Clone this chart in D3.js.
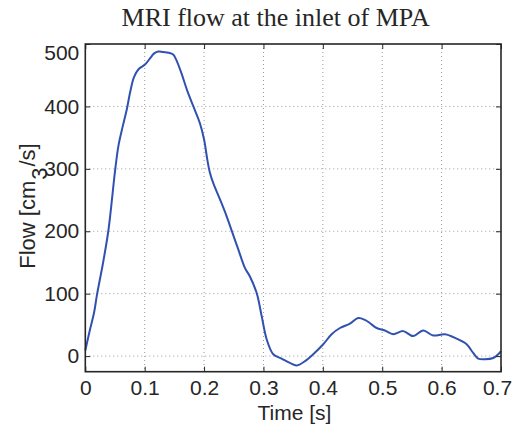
<!DOCTYPE html>
<html><head><meta charset="utf-8">
<script src="https://cdn.jsdelivr.net/npm/d3@7"></script>
<style>body{margin:0;background:#fff}svg{display:block}</style>
</head><body>
<svg id="c" width="514" height="425"></svg>
<script>
const time = [0.000,0.008,0.0146,0.020,0.030,0.039,0.0505,0.056,0.063,0.070,0.076,0.082,0.090,0.1005,0.109,0.116,0.123,0.131,0.140,0.148,0.153,0.162,0.171,0.182,0.193,0.200,0.2054,0.2095,0.2155,0.2268,0.238,0.2465,0.2576,0.2689,0.277,0.2886,0.297,0.3054,0.3165,0.3306,0.3446,0.3559,0.370,0.3838,0.4007,0.4148,0.4288,0.4456,0.4596,0.4709,0.479,0.4906,0.5045,0.5185,0.5354,0.552,0.569,0.5859,0.6056,0.6253,0.6421,0.6532,0.6616,0.673,0.6869,0.6953,0.700];
const flow = [9,43,69,100,150,202,300,338,368,396,425,447,460,467,477,485,488,487,486,483,475,453,427,400,373,347,315,295,277,251,224,201,171,141,128,101,64,27,3,-4,-11,-15,-8,3,19,35,45,52,61,58,53,45,41,35,40,32,41,33,35,28,19,5,-4,-5,-3,3,8];
const xTicks = [0,0.1,0.2,0.3,0.4,0.5,0.6,0.7];
const yTicks = [0,100,200,300,400,500];
const titleText = "MRI flow at the inlet of MPA";
const xLabel = "Time [s]";

const L=85.3,R=501,T=44,B=371.7;
const svg=d3.select("#c");
const x=d3.scaleLinear().domain([0,0.7]).range([L,R]);
const y=d3.scaleLinear().domain([-25,500]).range([B,T]);
const axisCol="#262626";
const font="'Liberation Sans', Arial, Helvetica, sans-serif";

// grid
const g=svg.append("g");
g.selectAll(".vg").data(xTicks.slice(1,-1)).join("line")
 .attr("x1",d=>x(d)).attr("x2",d=>x(d)).attr("y1",T).attr("y2",B)
 .attr("stroke","#9a9a9a").attr("stroke-width",1).attr("stroke-dasharray","1,3");
g.selectAll(".hg").data(yTicks.filter(d=>d<500)).join("line")
 .attr("x1",L).attr("x2",R).attr("y1",d=>y(d)).attr("y2",d=>y(d))
 .attr("stroke","#9a9a9a").attr("stroke-width",1).attr("stroke-dasharray","1,3");

// line
const data=time.map((t,i)=>[t,flow[i]]);
svg.append("path").datum(data)
 .attr("d",d3.line().x(d=>x(d[0])).y(d=>y(d[1])).curve(d3.curveCatmullRom.alpha(0.5)))
 .attr("fill","none").attr("stroke","#3151b0").attr("stroke-width",2);

// axes
const ax=svg.append("g").attr("transform",`translate(0,${B})`)
 .call(d3.axisBottom(x).tickValues(xTicks).tickFormat(d3.format("")).tickSizeInner(-5).tickSizeOuter(0).tickPadding(8));
const ay=svg.append("g").attr("transform",`translate(${L},0)`)
 .call(d3.axisLeft(y).tickValues(yTicks).tickSizeInner(-5).tickSizeOuter(0).tickPadding(6));
const axT=svg.append("g").attr("transform",`translate(0,${T})`)
 .call(d3.axisTop(x).tickValues(xTicks).tickFormat("").tickSizeInner(-5).tickSizeOuter(0));
const ayR=svg.append("g").attr("transform",`translate(${R},0)`)
 .call(d3.axisRight(y).tickValues(yTicks).tickFormat("").tickSizeInner(-5).tickSizeOuter(0));
[ax,ay,axT,ayR].forEach(a=>{
  a.select(".domain").remove();
  a.selectAll("line").attr("stroke",axisCol).attr("stroke-width",1);
  a.selectAll("text").attr("fill",axisCol).style("font-family",font).style("font-size","21px");
});
ay.selectAll(".tick text").filter(d=>d===500).attr("dy","0.75em");
ax.selectAll(".tick text").filter(d=>d===0.7).attr("dx","-4");
// box
svg.append("rect").attr("x",L).attr("y",T).attr("width",R-L).attr("height",B-T)
 .attr("fill","none").attr("stroke",axisCol).attr("stroke-width",1.6);

// title
svg.append("text").attr("x",275.6).attr("y",26).attr("text-anchor","middle")
 .style("font-family","'Liberation Serif','Times New Roman',serif").style("font-size","26px")
 .attr("fill",axisCol).text(titleText);
// x label
svg.append("text").attr("x",294.5).attr("y",420).attr("text-anchor","middle")
 .style("font-family",font).style("font-size","21px").attr("fill",axisCol).text(xLabel);
// y label
const yl=svg.append("text").attr("transform","translate(35,206) rotate(-90)").attr("text-anchor","middle")
 .style("font-family",font).style("font-size","22px").attr("fill",axisCol);
yl.append("tspan").text("Flow [cm");
yl.append("tspan").attr("dy","0.55em").attr("dx","1").text("3");
yl.append("tspan").attr("dy","-0.55em").attr("dx","1").text("/s]");
</script>
</body></html>
